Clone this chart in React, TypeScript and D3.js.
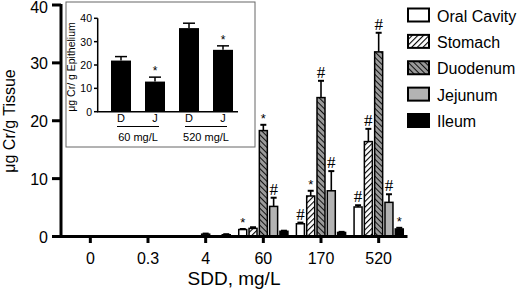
import React from "react";
import * as d3 from "d3";

// ---------- Data ----------
const doses = ["0", "0.3", "4", "60", "170", "520"];
const seriesNames = ["Oral Cavity", "Stomach", "Duodenum", "Jejunum", "Ileum"];
const oralCavity = [0.05, 0.05, 0.05, 1.2, 2.2, 5.1];
const stomach = [0.05, 0.05, 0.05, 1.4, 7.0, 16.4];
const duodenum = [0.1, 0.05, 0.4, 18.3, 24.0, 31.9];
const jejunum = [0.05, 0.05, 0.1, 5.2, 7.9, 5.9];
const ileum = [0.05, 0.05, 0.3, 0.9, 0.7, 1.3];
const oralErr = [0, 0, 0, 0.1, 0.2, 0.3];
const stomachErr = [0, 0, 0, 0.2, 0.9, 2.2];
const duodenumErr = [0, 0, 0.1, 1.0, 2.9, 3.3];
const jejunumErr = [0, 0, 0, 1.5, 3.4, 1.4];
const ileumErr = [0, 0, 0.1, 0.1, 0.1, 0.2];
const oralMark = ["", "", "", "*", "#", "#"];
const stomachMark = ["", "", "", "", "*", "#"];
const duodenumMark = ["", "", "", "*", "#", "#"];
const jejunumMark = ["", "", "", "#", "#", "#"];
const ileumMark = ["", "", "", "", "", "*"];
const yTicks = [0, 10, 20, 30, 40];

const insetCats = ["D", "J", "D", "J"];
const insetValues = [21.9, 12.9, 35.8, 26.5];
const insetErr = [1.7, 1.9, 2.1, 1.7];
const insetMarks = ["", "*", "", "*"];
const insetGroups = ["60 mg/L", "520 mg/L"];
const insetTicks = [0, 10, 20, 30, 40];

const values = [oralCavity, stomach, duodenum, jejunum, ileum];
const errors = [oralErr, stomachErr, duodenumErr, jejunumErr, ileumErr];
const marks = [oralMark, stomachMark, duodenumMark, jejunumMark, ileumMark];
const fills = ["#ffffff", "url(#stomachPat)", "url(#duoPat)", "#b3b3b3", "#000000"];

const FONT = "'Liberation Sans', Arial, Helvetica, sans-serif";
const SERIF = "'Liberation Serif', 'Times New Roman', serif";

export default function App() {
  // main scales
  const x = d3.scaleBand<string>().domain(doses).range([61.5, 407.5]);
  const y = d3.scaleLinear().domain([0, 40]).range([236.5, 5]);
  const sub = d3.scaleBand<string>().domain(seriesNames).range([-25.75, 25.75]);
  const barW = 8;

  // inset scales
  const ix = d3.scaleBand<string>().domain(["0", "1", "2", "3"]).range([104, 240]);
  const iy = d3.scaleLinear().domain([0, 40]).range([111.7, 18.3]);
  const iBarW = 20;

  const bars: React.ReactNode[] = [];
  seriesNames.forEach((s, si) => {
    doses.forEach((d, di) => {
      const v = values[si][di];
      const e = errors[si][di];
      const cx = (x(d) as number) + x.bandwidth() / 2 + (sub(s) as number) + sub.bandwidth() / 2;
      const top = y(v);
      const errTop = y(v + e);
      const m = marks[si][di];
      bars.push(
        <g key={`${si}-${di}`}>
          {e > 0 && (
            <g stroke="#000" strokeWidth={1.6}>
              <line x1={cx} x2={cx} y1={top} y2={errTop} />
              <line x1={cx - 3} x2={cx + 3} y1={errTop} y2={errTop} strokeWidth={2} />
            </g>
          )}
          <rect
            x={cx - barW / 2}
            y={top}
            width={barW}
            height={y(0) - top}
            fill={fills[si]}
            stroke="#000"
            strokeWidth={1.5}
          />
          {m && (
            <text
              x={cx}
              y={m === "#" ? errTop - 3 : errTop - 2}
              textAnchor="middle"
              fontFamily={m === "#" ? SERIF : FONT}
              fontSize={m === "#" ? 17 : 13}
              fill="#000"
            >
              {m}
            </text>
          )}
        </g>
      );
    });
  });

  const insetBars = insetValues.map((v, i) => {
    const cx = (ix(String(i)) as number) + ix.bandwidth() / 2;
    const top = iy(v);
    const et = iy(v + insetErr[i]);
    return (
      <g key={i}>
        <line x1={cx} x2={cx} y1={top} y2={et} stroke="#000" strokeWidth={1.5} />
        <line x1={cx - 6} x2={cx + 6} y1={et} y2={et} stroke="#000" strokeWidth={1.5} />
        <rect x={cx - iBarW / 2} y={top} width={iBarW} height={iy(0) - top} fill="#000" />
        {insetMarks[i] && (
          <text x={cx} y={et - 2} textAnchor="middle" fontFamily={FONT} fontSize={12}>
            {insetMarks[i]}
          </text>
        )}
        <text x={cx} y={122} textAnchor="middle" fontFamily={FONT} fontSize={11}>
          {insetCats[i]}
        </text>
      </g>
    );
  });

  const insetGroupEls = insetGroups.map((g, gi) => {
    const a = (ix(String(gi * 2)) as number) + ix.bandwidth() / 2;
    const b = (ix(String(gi * 2 + 1)) as number) + ix.bandwidth() / 2;
    return (
      <g key={g}>
        <line x1={a - 4} x2={b + 4} y1={126.5} y2={126.5} stroke="#000" strokeWidth={1.2} />
        <text x={(a + b) / 2} y={140.5} textAnchor="middle" fontFamily={FONT} fontSize={11}>
          {g}
        </text>
      </g>
    );
  });

  const legendY = d3.scaleLinear().domain([0, 4]).range([15, 120.5]);

  return (
    <svg
      width={520}
      height={291}
      style={{ position: "absolute", left: 0, top: 0, background: "#fff" }}
    >
      <defs>
        <pattern id="stomachPat" patternUnits="userSpaceOnUse" width={4} height={4} patternTransform="rotate(45)">
          <rect width={4} height={4} fill="#fff" />
          <line x1={0} y1={0} x2={0} y2={4} stroke="#000" strokeWidth={2.2} />
        </pattern>
        <pattern id="duoPat" patternUnits="userSpaceOnUse" width={4} height={4} patternTransform="rotate(-45)">
          <rect width={4} height={4} fill="#9a9a9a" />
          <line x1={0} y1={0} x2={0} y2={4} stroke="#000" strokeWidth={1.8} />
        </pattern>
      </defs>

      {/* inset */}
      <rect x={66} y={2} width={189} height={145} fill="#fff" stroke="#666" strokeWidth={1} />
      {insetBars}
      <line x1={97.7} x2={97.7} y1={iy(40)} y2={iy(0)} stroke="#000" strokeWidth={1.5} />
      <line x1={97} x2={238} y1={iy(0)} y2={iy(0)} stroke="#000" strokeWidth={1.5} />
      {insetTicks.map((t) => (
        <g key={t}>
          <line x1={94} x2={97.7} y1={iy(t)} y2={iy(t)} stroke="#000" strokeWidth={1.5} />
          <text x={92} y={iy(t)} textAnchor="end" dominantBaseline="central" fontFamily={FONT} fontSize={10.5}>
            {t}
          </text>
        </g>
      ))}
      {insetGroupEls}
      <text
        transform={`translate(71,${(iy(0) + iy(40)) / 2 + 2}) rotate(-90)`}
        textAnchor="middle"
        dominantBaseline="central"
        fontFamily={FONT}
        fontSize={10.5}
      >
        μg Cr/ g Epithelium
      </text>

      {/* main bars */}
      {bars}

      {/* main axes */}
      <line x1={61} x2={61} y1={y(40) - 1} y2={y(0) + 1.5} stroke="#000" strokeWidth={3} />
      <line x1={59.5} x2={407.5} y1={y(0)} y2={y(0)} stroke="#000" strokeWidth={3} />
      {yTicks.map((t) => (
        <g key={t}>
          <line x1={52} x2={61} y1={y(t)} y2={y(t)} stroke="#000" strokeWidth={3} />
          <text
            x={48}
            y={t === 40 ? y(t) + 2.5 : y(t) + 1}
            textAnchor="end"
            dominantBaseline="central"
            fontFamily={FONT}
            fontSize={16}
          >
            {t}
          </text>
        </g>
      ))}
      {doses.map((d) => {
        const cx = (x(d) as number) + x.bandwidth() / 2;
        return (
          <g key={d}>
            <line x1={cx} x2={cx} y1={y(0)} y2={y(0) + 6.5} stroke="#000" strokeWidth={3} />
            <text x={cx} y={263.5} textAnchor="middle" fontFamily={FONT} fontSize={16}>
              {d}
            </text>
          </g>
        );
      })}
      <text x={234} y={285} textAnchor="middle" fontFamily={FONT} fontSize={19}>
        SDD, mg/L
      </text>
      <text
        transform={`translate(9,121) rotate(-90)`}
        textAnchor="middle"
        dominantBaseline="central"
        fontFamily={FONT}
        fontSize={16}
      >
        μg Cr/g Tissue
      </text>

      {/* legend */}
      {seriesNames.map((s, i) => (
        <g key={s}>
          <rect
            x={408}
            y={legendY(i) - 6.5}
            width={21}
            height={13}
            fill={fills[i]}
            stroke="#000"
            strokeWidth={2}
          />
          <text x={437} y={legendY(i) + 1} dominantBaseline="central" fontFamily={FONT} fontSize={16}>
            {s}
          </text>
        </g>
      ))}
    </svg>
  );
}
